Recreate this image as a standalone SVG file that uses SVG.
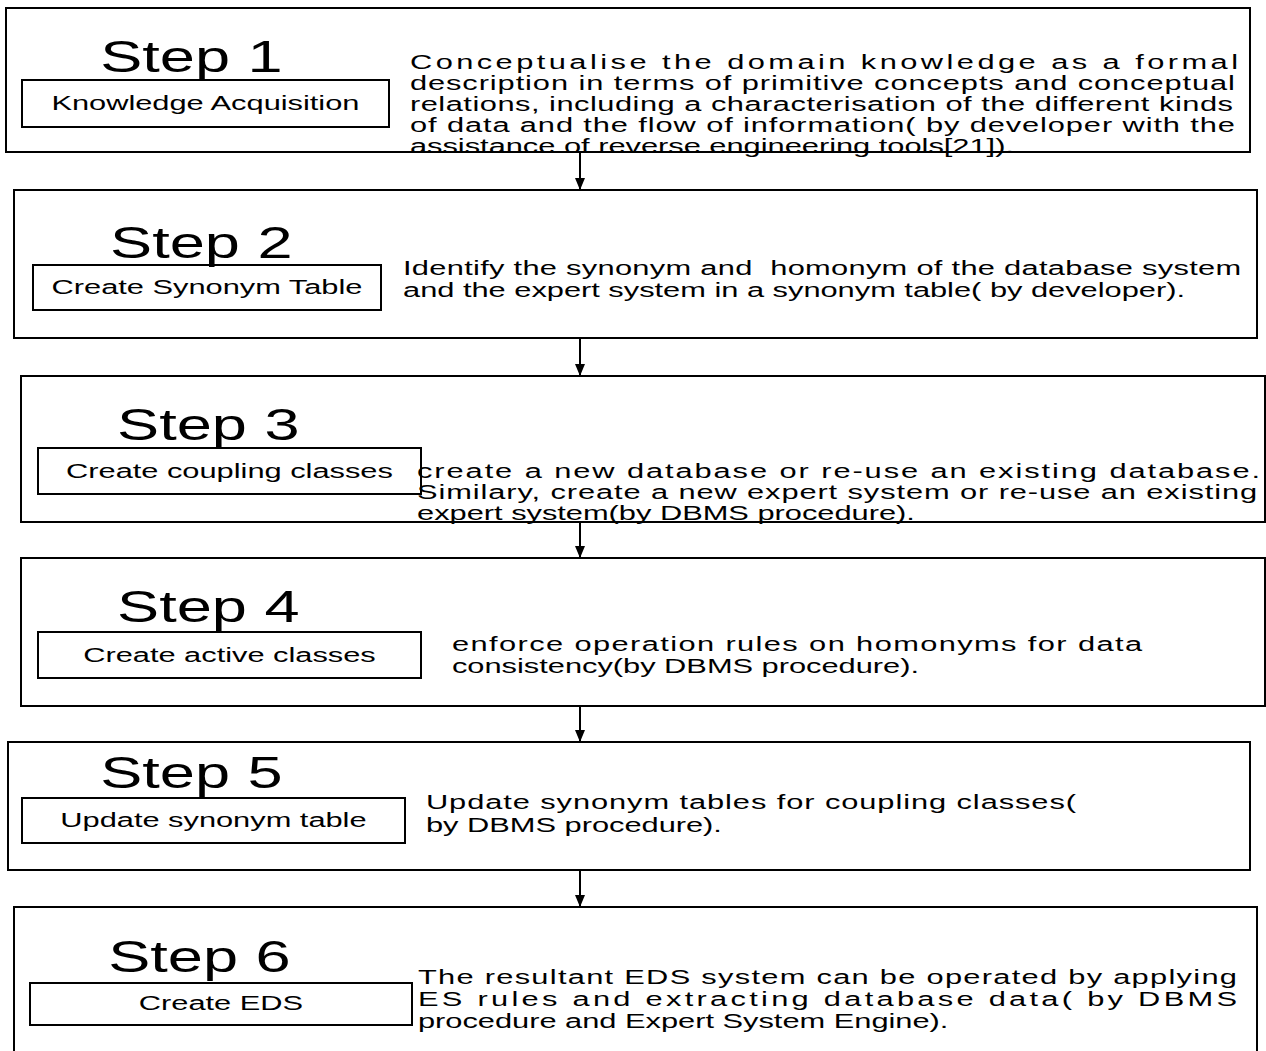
<svg xmlns="http://www.w3.org/2000/svg" width="1266" height="1051" viewBox="0 0 1266 1051">
  <defs>
    <marker id="arrowhead" markerWidth="12" markerHeight="10" refX="12" refY="5" orient="auto" markerUnits="userSpaceOnUse">
      <path d="M0,0 L12,5 L0,10 Z" fill="#000"/>
    </marker>
  </defs>
  <style>
    .frame { fill: #fff; stroke: #000; stroke-width: 2; }
    .label { fill: #fff; stroke: #000; stroke-width: 2; }
    .step { font-family: "Liberation Sans", Arial, sans-serif; font-size: 44px; fill: #000; }
    .name { font-family: "Liberation Sans", Arial, sans-serif; font-size: 20px; fill: #000; text-anchor: middle; }
    .desc { font-family: "Liberation Sans", Arial, sans-serif; font-size: 20px; fill: #000; }
    .link { stroke: #000; stroke-width: 2; fill: none; marker-end: url(#arrowhead); }
  </style>
  <rect width="1266" height="1051" fill="#fff"/>

  <!-- Step 1 -->
  <g id="step1">
    <rect class="frame" x="6" y="8" width="1244" height="144"/>
    <rect class="label" x="22" y="80" width="367" height="47"/>
    <text class="step" transform="scale(1.435 1)" x="69.8" y="72">Step 1</text>
    <g transform="scale(1.54 1)">
      <text class="name" x="133.4" y="110">Knowledge Acquisition</text>
      <text class="desc" x="266.2" y="69" textLength="537.7" lengthAdjust="spacing">Conceptualise the domain knowledge as a formal</text>
      <text class="desc" x="266.2" y="90" textLength="535.7" lengthAdjust="spacing">description in terms of primitive concepts and conceptual</text>
      <text class="desc" x="266.2" y="111" textLength="534.4" lengthAdjust="spacing">relations, including a characterisation of the different kinds</text>
      <text class="desc" x="266.2" y="132" textLength="535.7" lengthAdjust="spacing">of data and the flow of information( by developer with the</text>
      <text class="desc" x="266.2" y="153">assistance of reverse engineering tools[21]).</text>
    </g>
  </g>

  <!-- Step 2 -->
  <g id="step2">
    <rect class="frame" x="14" y="190" width="1243" height="148"/>
    <rect class="label" x="33" y="265" width="348" height="45"/>
    <text class="step" transform="scale(1.435 1)" x="76.7" y="258">Step 2</text>
    <g transform="scale(1.54 1)">
      <text class="name" x="134.4" y="294">Create Synonym Table</text>
      <text class="desc" x="261.7" y="275" textLength="544.2" lengthAdjust="spacing" xml:space="preserve">Identify the synonym and  homonym of the database system</text>
      <text class="desc" x="261.7" y="297">and the expert system in a synonym table( by developer).</text>
    </g>
  </g>

  <!-- Step 3 -->
  <g id="step3">
    <rect class="frame" x="21" y="376" width="1244" height="146"/>
    <rect class="label" x="38" y="448" width="383" height="46"/>
    <text class="step" transform="scale(1.435 1)" x="81.6" y="440">Step 3</text>
    <g transform="scale(1.54 1)">
      <text class="name" x="149" y="478">Create coupling classes</text>
      <text class="desc" x="270.8" y="478" textLength="547.4" lengthAdjust="spacing">create a new database or re-use an existing database.</text>
      <text class="desc" x="270.8" y="499" textLength="545.5" lengthAdjust="spacing">Similary, create a new expert system or re-use an existing</text>
      <text class="desc" x="270.8" y="520">expert system(by DBMS procedure).</text>
    </g>
  </g>

  <!-- Step 4 -->
  <g id="step4">
    <rect class="frame" x="21" y="558" width="1244" height="148"/>
    <rect class="label" x="38" y="632" width="383" height="46"/>
    <text class="step" transform="scale(1.435 1)" x="81.6" y="622">Step 4</text>
    <g transform="scale(1.54 1)">
      <text class="name" x="149" y="662">Create active classes</text>
      <text class="desc" x="293.5" y="651" textLength="448.1" lengthAdjust="spacing">enforce operation rules on homonyms for data</text>
      <text class="desc" x="293.5" y="673">consistency(by DBMS procedure).</text>
    </g>
  </g>

  <!-- Step 5 -->
  <g id="step5">
    <rect class="frame" x="8" y="742" width="1242" height="128"/>
    <rect class="label" x="22" y="798" width="383" height="45"/>
    <text class="step" transform="scale(1.435 1)" x="69.8" y="788">Step 5</text>
    <g transform="scale(1.54 1)">
      <text class="name" x="138.6" y="827">Update synonym table</text>
      <text class="desc" x="276.6" y="809" textLength="422.1" lengthAdjust="spacing">Update synonym tables for coupling classes(</text>
      <text class="desc" x="276.6" y="832">by DBMS procedure).</text>
    </g>
  </g>

  <!-- Step 6 -->
  <g id="step6">
    <rect class="frame" x="14" y="907" width="1243" height="160"/>
    <rect class="label" x="30" y="983" width="382" height="42"/>
    <text class="step" transform="scale(1.435 1)" x="75.4" y="972">Step 6</text>
    <g transform="scale(1.54 1)">
      <text class="name" x="143.5" y="1010">Create EDS</text>
      <text class="desc" x="271.4" y="984" textLength="531.8" lengthAdjust="spacing">The resultant EDS system can be operated by applying</text>
      <text class="desc" x="271.4" y="1006" textLength="531.8" lengthAdjust="spacing">ES rules and extracting database data( by DBMS</text>
      <text class="desc" x="271.4" y="1028">procedure and Expert System Engine).</text>
    </g>
  </g>

  <!-- Connectors between steps -->
  <g id="connectors">
    <line class="link" x1="580" y1="152" x2="580" y2="190"/>
    <line class="link" x1="580" y1="338" x2="580" y2="376"/>
    <line class="link" x1="580" y1="522" x2="580" y2="558"/>
    <line class="link" x1="580" y1="706" x2="580" y2="742"/>
    <line class="link" x1="580" y1="870" x2="580" y2="907"/>
  </g>
</svg>
